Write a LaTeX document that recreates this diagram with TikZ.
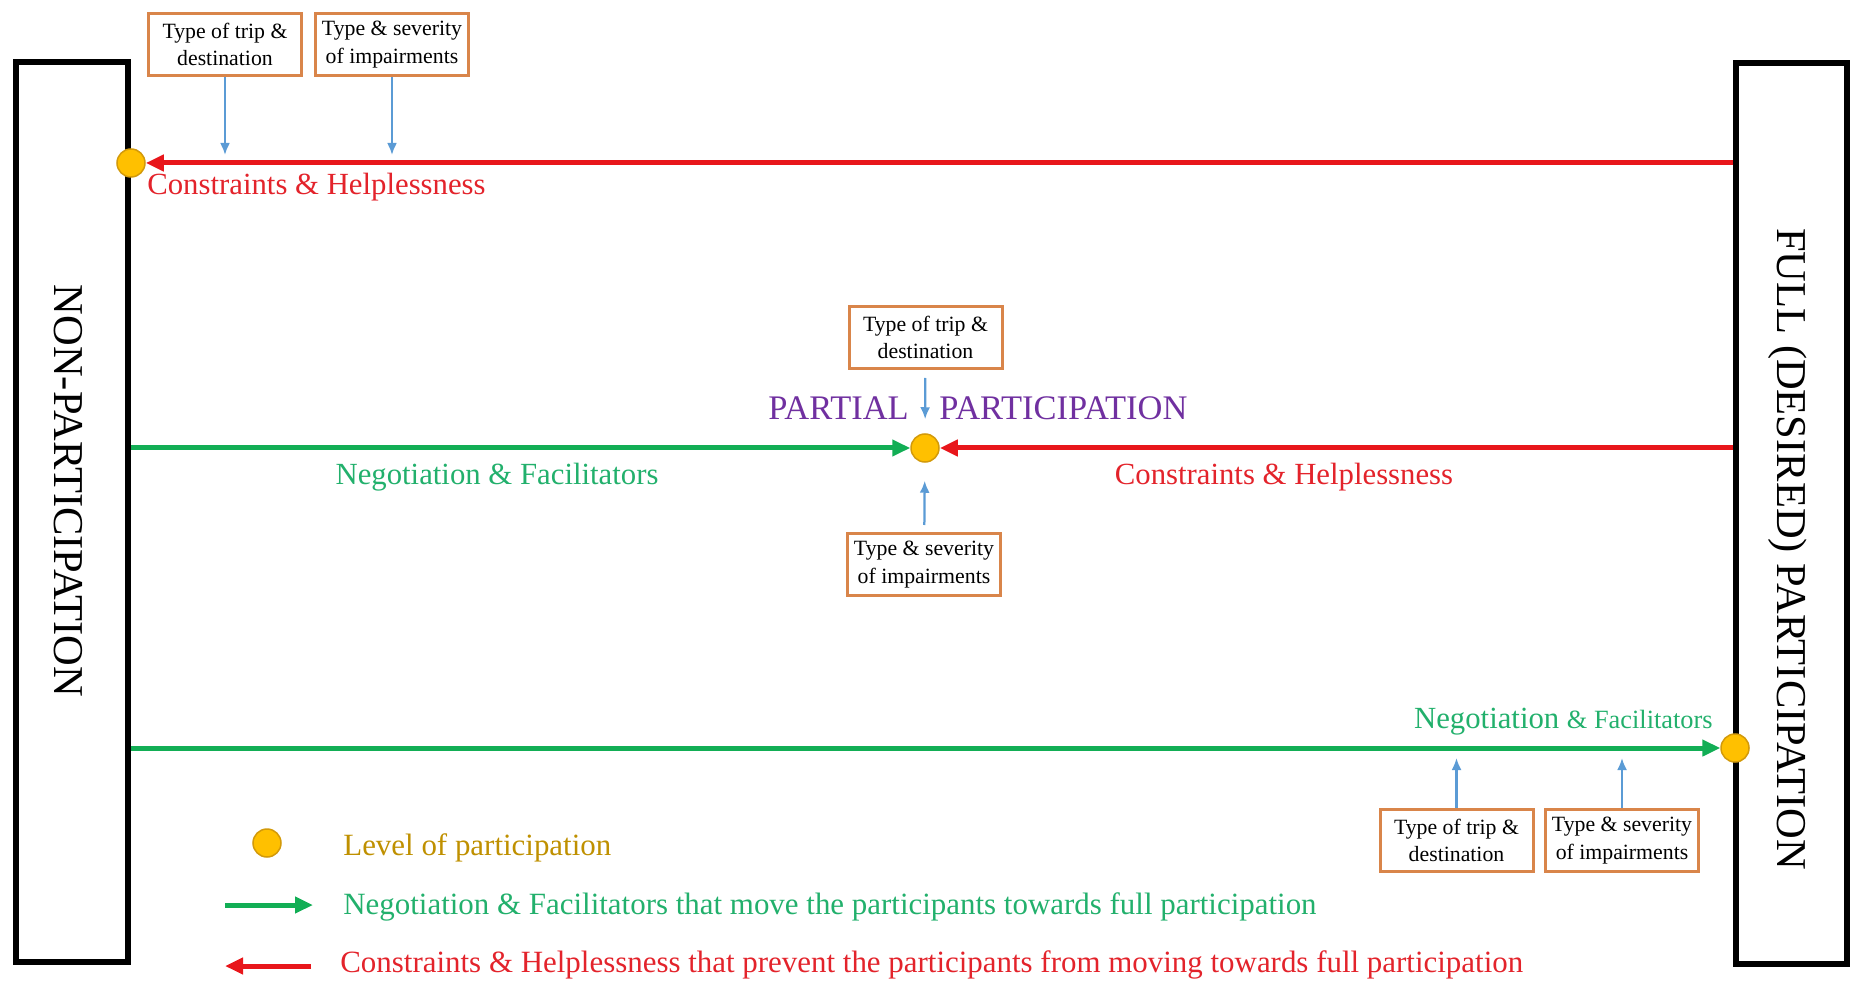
\documentclass[tikz,border=0pt]{standalone}
\usepackage{fontspec}
\setmainfont{Liberation Serif}
\usetikzlibrary{arrows.meta,calc,positioning}
\definecolor{constrred}{HTML}{E8161B}
\definecolor{constrtext}{HTML}{E3232B}
\definecolor{negotgreen}{HTML}{12AE55}
\definecolor{negottext}{HTML}{22B06C}
\definecolor{partpurple}{HTML}{7030A0}
\definecolor{dotgold}{HTML}{FFC000}
\definecolor{dotedge}{HTML}{D39A0A}
\definecolor{levelgold}{HTML}{BF9000}
\definecolor{boxorange}{HTML}{D9854A}
\definecolor{factorblue}{HTML}{5B9BD5}
\tikzset{
  sidebox/.style={draw=black,line width=1.1mm,inner sep=0pt},
  sidelabel/.style={font=\fontsize{24.2}{29}\selectfont,rotate=-90},
  level/.style={circle,fill=dotgold,draw=dotedge,line width=0.3mm,minimum size=5.6mm,inner sep=0pt},
  factorbox/.style={draw=boxorange,line width=0.6mm,fill=white,align=center,
    minimum width=30.6mm,minimum height=12.4mm,inner sep=1pt,font=\fontsize{12.4}{15.5}\selectfont},
  factor/.style={factorblue,line width=0.45mm,-{Latex[length=2.4mm,width=2mm]}},
  push/.style={negotgreen,line width=1mm,-{Triangle[length=3.6mm,width=3.2mm]}},
  pull/.style={constrred,line width=1mm,-{Triangle[length=3.6mm,width=3.2mm]}},
  greenlabel/.style={text=negottext,font=\fontsize{17.5}{21}\selectfont,inner sep=0pt},
  redlabel/.style={text=constrtext,font=\fontsize{17.5}{21}\selectfont,inner sep=0pt},
  partlabel/.style={text=partpurple,font=\fontsize{19.6}{23}\selectfont,inner sep=0pt},
  legendtext/.style={font=\fontsize{17.6}{21}\selectfont,inner sep=0pt,anchor=west}
}
\begin{document}
\begin{tikzpicture}[x=0.2mm,y=0.2mm]
  \useasboundingbox (0,0) rectangle (1854,985);
  % the two ends of the scale
  \node[sidebox,minimum width=22.4mm,minimum height=180mm] (nonpart) at (72,473) {};
  \node[sidelabel] (nonlabel) at (68,494) {NON-PARTICIPATION};
  \node[sidebox,minimum width=22.2mm,minimum height=180.2mm] (fullpart) at (1791.5,471.5) {};
  \node[sidelabel] (fulllabel) at (1788,436) {FULL (DESIRED) PARTICIPATION};

  % levels of participation
  \node[level] (dotnone) at (131,822) {};
  \node[level] (dotpart) at (925,537) {};
  \node[level] (dotfull) at (1735,237) {};

  % top row
  \draw[pull] (fullpart.west |- dotnone) -- (dotnone);
  \node[factorbox] (tripA) at (225,940.5) {Type of trip \&\\destination};
  \node[factorbox] (sevA) at (392,940.5) {Type \& severity\\of impairments};
  \draw[factor,shorten >=1.6mm] (tripA) -- (tripA |- dotnone);
  \draw[factor,shorten >=1.6mm] (sevA) -- (sevA |- dotnone);
  \node[redlabel,anchor=west] (constrA) at (147,798) {Constraints \& Helplessness};

  % middle row
  \draw[push] (nonpart.east |- dotpart) -- (dotpart);
  \draw[pull] (fullpart.west |- dotpart) -- (dotpart);
  \node[factorbox] (tripB) at (925.5,647.5) {Type of trip \&\\destination};
  \node[factorbox] (sevB) at (924,420.5) {Type \& severity\\of impairments};
  \draw[factor,shorten <=1.6mm,shorten >=2.8mm] (tripB) -- (dotpart);
  \draw[factor,shorten <=1.4mm,shorten >=3.6mm] (sevB) -- (dotpart);
  \node[partlabel,anchor=east] (partA) at (909,577) {PARTIAL};
  \node[partlabel,anchor=west] (partB) at (939,577) {PARTICIPATION};
  \node[greenlabel] (negotB) at (497,508) {Negotiation \& Facilitators};
  \node[redlabel] (constrB) at (1284,508) {Constraints \& Helplessness};

  % bottom row
  \draw[push] (nonpart.east |- dotfull) -- (dotfull);
  \node[factorbox] (tripC) at (1456.5,144.5) {Type of trip \&\\destination};
  \node[factorbox] (sevC) at (1622,144.5) {Type \& severity\\of impairments};
  \draw[factor,shorten >=2mm] (tripC) -- (tripC |- dotfull);
  \draw[factor,shorten >=2mm] (sevC) -- (sevC |- dotfull);
  \node[greenlabel,anchor=east] (negotC) at (1713,263)
    {Negotiation {\fontsize{15}{18}\selectfont\& Facilitators}};

  % legend
  \node[level] (legdot) at (267,142) {};
  \node[legendtext,text=levelgold] (legdottext) at (343,137) {Level of participation};
  \coordinate (greenA) at (225,80);
  \coordinate (greenB) at (313,80);
  \draw[push] (greenA) -- (greenB);
  \node[legendtext,text=negottext] (legpush) at (343,78)
    {Negotiation \& Facilitators that move the participants towards full participation};
  \coordinate (redA) at (311,19);
  \coordinate (redB) at (225,19);
  \draw[pull] (redA) -- (redB);
  \node[legendtext,text=constrtext] (legpull) at (340,20)
    {Constraints \& Helplessness that prevent the participants from moving towards full participation};
\end{tikzpicture}
\end{document}
